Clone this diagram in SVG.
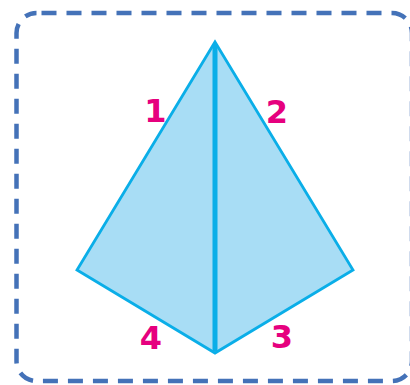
<svg xmlns="http://www.w3.org/2000/svg" width="410" height="385" viewBox="0 0 410 385">
<style>
.frame{fill:none;stroke:#4472B8;stroke-width:4.5;stroke-dasharray:15 10}
.face{fill:#A8DDF5;stroke:#0AAEE8;stroke-width:2.8;stroke-linejoin:miter}
.axis{stroke:#0AAEE8;stroke-width:5}
.lbl{fill:#E6007E;font-family:"DejaVu Sans",sans-serif;font-weight:bold;font-size:32px;text-anchor:middle}
</style>
<rect class="frame" x="16.5" y="13" width="395.5" height="368" rx="20" ry="20" stroke-dashoffset="-5"/>
<g id="kite">
<polygon class="face" points="215,42 353,270 215,353 77,270"/>
<line class="axis" x1="215" y1="44" x2="215" y2="351"/>
</g>
<g id="labels">
<text class="lbl" x="155.5" y="122">1</text>
<text class="lbl" x="277" y="123">2</text>
<text class="lbl" x="282" y="348">3</text>
<text class="lbl" x="151" y="349">4</text>
</g>
</svg>
